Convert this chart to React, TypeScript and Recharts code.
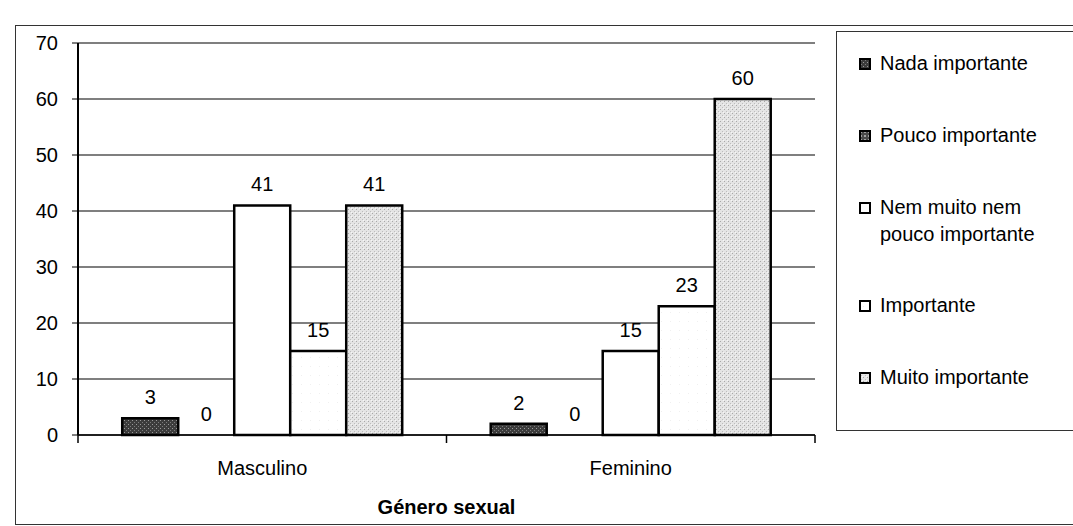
import { BarChart, Bar, XAxis, YAxis, CartesianGrid, LabelList, Legend, Rectangle } from 'recharts';

// Importância atribuída, por género sexual
const categories = ['Masculino', 'Feminino'];
const nadaImportante = [3, 2];
const poucoImportante = [0, 0];
const nemMuitoNemPouco = [41, 15];
const importante = [15, 23];
const muitoImportante = [41, 60];
const yTicks = [0, 10, 20, 30, 40, 50, 60, 70];

const FONT = '"Liberation Sans", Arial, sans-serif';

const series = [
    { key: 'nada', name: 'Nada importante', values: nadaImportante, fill: 'url(#patNada)' },
    { key: 'pouco', name: 'Pouco importante', values: poucoImportante, fill: 'url(#patPouco)' },
    { key: 'nem', name: 'Nem muito nem pouco importante', values: nemMuitoNemPouco, fill: '#ffffff' },
    { key: 'imp', name: 'Importante', values: importante, fill: 'url(#patImp)' },
    { key: 'muito', name: 'Muito importante', values: muitoImportante, fill: 'url(#patMuito)' },
];

const data = categories.map((genero, i) => {
    const row: Record<string, string | number> = { genero };
    series.forEach((s) => {
        row[s.key] = s.values[i];
    });
    return row;
});

// category label + small tick marks on the category boundaries (Excel style)
const GenderTick = (props: any) => {
    const { x, y, payload, index, visibleTicksCount, width } = props;
    const band = width && visibleTicksCount ? width / visibleTicksCount : 0;
    return (
        <g>
            {band > 0 && <line x1={x - band / 2} y1={y} x2={x - band / 2} y2={y + 8} stroke="#000" strokeWidth={1.5} />}
            {band > 0 && index === visibleTicksCount - 1 && (
                <line x1={x + band / 2} y1={y} x2={x + band / 2} y2={y + 8} stroke="#000" strokeWidth={1.5} />
            )}
            <text x={x} y={y + 40} textAnchor="middle" fontSize={20} fontFamily={FONT} fill="#000">
                {payload.value}
            </text>
        </g>
    );
};

// zero bars keep a tiny rect so their "0" label is placed, but draw nothing
const BarShape = (props: any) => {
    if (!props.height || Math.abs(props.height) < 0.5) return <g />;
    return <Rectangle {...props} />;
};

// legend keeps the series order (Excel legend box on the right)
const LegendBox = () => (
    <div
        style={{
            boxSizing: 'border-box',
            height: '100%',
            padding: '18px 0 39px 22px',
            display: 'flex',
            flexDirection: 'column',
            justifyContent: 'space-between',
            fontFamily: FONT,
            fontSize: 20,
            lineHeight: '27px',
            color: '#000',
        }}
    >
        {series.map((s) => (
            <div key={s.key} style={{ display: 'flex', alignItems: 'flex-start' }}>
                <svg width={12} height={12} style={{ marginTop: 8, marginRight: 9, flex: 'none' }}>
                    <rect x={1} y={1} width={10} height={10} fill={s.fill} stroke="#000" strokeWidth={2} />
                </svg>
                <div style={{ width: 175 }}>{s.name}</div>
            </div>
        ))}
    </div>
);

export default function App() {
    return (
        <div style={{ position: 'fixed', left: 0, top: 0, width: 1073, height: 526, overflow: 'hidden', background: '#fff' }}>
            {/* outer chart-area frame */}
            <div
                style={{
                    position: 'absolute',
                    left: 15,
                    top: 25,
                    width: 1080,
                    height: 498,
                    border: '1px solid #333',
                }}
            />
            <BarChart
                width={1073}
                height={526}
                data={data}
                margin={{ top: 43, right: 258, bottom: 0, left: 0 }}
                barCategoryGap="12%"
                barGap={0}
            >
                <defs>
                    <pattern id="patNada" width="4" height="4" patternUnits="userSpaceOnUse">
                        <rect width="4" height="4" fill="#3c3c3c" />
                        <rect x="0" y="0" width="1" height="1" fill="#9a9a9a" />
                        <rect x="2" y="2" width="1" height="1" fill="#7a7a7a" />
                    </pattern>
                    <pattern id="patPouco" width="4" height="4" patternUnits="userSpaceOnUse">
                        <rect width="4" height="4" fill="#4a4a4a" />
                        <rect x="1" y="1" width="2" height="2" fill="#a0a0a0" />
                    </pattern>
                    <pattern id="patImp" width="9" height="9" patternUnits="userSpaceOnUse">
                        <rect width="9" height="9" fill="#ffffff" />
                        <rect x="4" y="6" width="1" height="1" fill="#f0f0f0" />
                    </pattern>
                    <pattern id="patMuito" width="4" height="4" patternUnits="userSpaceOnUse">
                        <rect width="4" height="4" fill="#e4e4e4" />
                        <rect x="0" y="1" width="1" height="1" fill="#a8a8a8" />
                        <rect x="2" y="3" width="1" height="1" fill="#bdbdbd" />
                        <rect x="3" y="0" width="1" height="1" fill="#f6f6f6" />
                    </pattern>
                </defs>

                <CartesianGrid vertical={false} stroke="#000" strokeWidth={1.2} />

                <XAxis
                    dataKey="genero"
                    height={91}
                    tickLine={false}
                    tickSize={0}
                    tickMargin={0}
                    axisLine={{ stroke: '#000', strokeWidth: 1.5 }}
                    tick={<GenderTick />}
                    label={{
                        value: 'Género sexual',
                        position: 'insideBottom',
                        offset: 12,
                        fontSize: 20,
                        fontWeight: 'bold',
                        fontFamily: FONT,
                        fill: '#000',
                    }}
                />
                <YAxis
                    width={78}
                    domain={[0, 70]}
                    ticks={yTicks}
                    interval={0}
                    tickSize={6}
                    tickMargin={14}
                    axisLine={{ stroke: '#000', strokeWidth: 2 }}
                    tickLine={{ stroke: '#000' }}
                    tick={{ fontSize: 20, fontFamily: FONT, fill: '#000' }}
                />
                {/* right border of the plot area */}
                <YAxis
                    yAxisId="frame"
                    orientation="right"
                    width={0}
                    domain={[0, 70]}
                    tick={false}
                    tickLine={false}
                    axisLine={{ stroke: '#000', strokeWidth: 1.5 }}
                />

                <Legend
                    layout="vertical"
                    align="center"
                    verticalAlign="middle"
                    content={<LegendBox />}
                    wrapperStyle={{
                        left: 836,
                        top: 31,
                        width: 250,
                        height: 400,
                        border: '1px solid #333',
                        boxSizing: 'border-box',
                        background: '#fff',
                    }}
                />

                {series.map((s) => (
                    <Bar
                        key={s.key}
                        dataKey={s.key}
                        name={s.name}
                        fill={s.fill}
                        stroke="#000"
                        strokeWidth={2.5}
                        minPointSize={(v: number) => (v === 0 ? 0.01 : 0)}
                        shape={<BarShape />}
                        isAnimationActive={false}
                    >
                        <LabelList
                            dataKey={s.key}
                            position="top"
                            offset={14}
                            fontSize={20}
                            fontFamily={FONT}
                            fill="#000"
                        />
                    </Bar>
                ))}
            </BarChart>
        </div>
    );
}
